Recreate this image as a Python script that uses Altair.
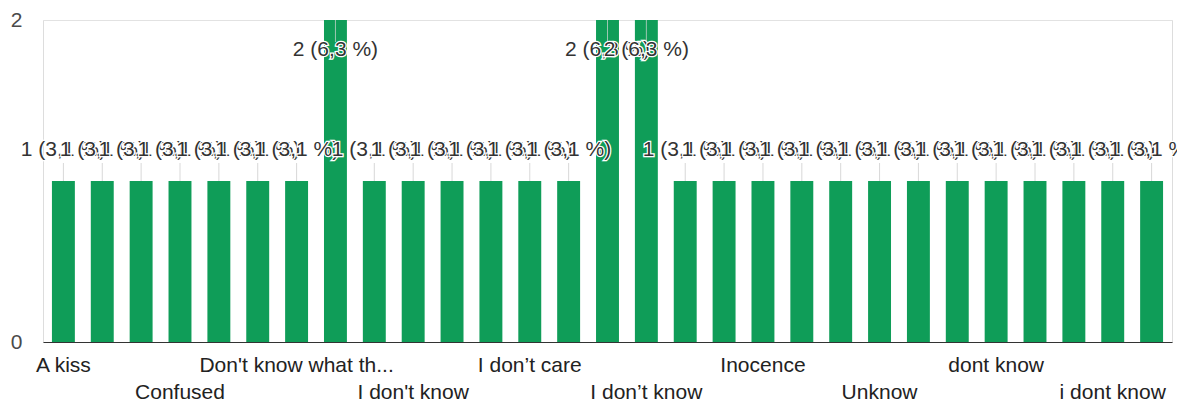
import altair as alt
import pandas as pd

categories = [
    "A kiss", "Anger", "Boredom", "Confused", "Death", "Don't know",
    "Don't know what th...", "Dont know", "Happiness", "I don't know",
    "I don't understand", "I dont know", "I don\u2019t care", "I don\u2019t get it",
    "I don\u2019t have a clue", "I don\u2019t know", "I have no idea", "Idk",
    "Inocence", "Love", "Nothing", "Unknow", "Unknown", "What",
    "dont know", "dunno", "i don't know", "i dont know", "idk",
]
values = [1, 1, 1, 1, 1, 1, 1, 2, 1, 1, 1, 1, 1, 1, 2, 2, 1, 1, 1, 1, 1, 1, 1, 1, 1, 1, 1, 1, 1]

df = pd.DataFrame({"category": categories, "value": values})

FONT = "Liberation Sans"
GREEN = "#0f9d58"

base = alt.Chart(df).transform_joinaggregate(
    total="sum(value)", vmax="max(value)"
).transform_calculate(
    label="datum.value + ' (' + replace(format(datum.value / datum.total * 100, '.1f'), '.', ',') + ' %)'"
)

x = alt.X(
    "category:N",
    sort=categories,
    scale=alt.Scale(paddingInner=0.41, paddingOuter=0.23),
    axis=alt.Axis(labels=False, ticks=False, title=None, domain=True,
                  domainColor="#333333", domainWidth=1, grid=False),
)
y = alt.Y(
    "value:Q",
    scale=alt.Scale(domain=[0, 2], nice=False),
    axis=alt.Axis(values=[0, 1, 2], format="d", title=None, tickSize=0,
                  labelPadding=21, domain=False, gridColor="#e2e2e2",
                  labelFontSize=21, labelFont=FONT, labelColor="#4a4a4a"),
)

bars = base.mark_bar(color=GREEN).encode(x=x, y=y)

low = base.transform_filter("datum.value < datum.vmax")
high = base.transform_filter("datum.value >= datum.vmax")

tick_low = low.mark_tick(orient="vertical", size=18, thickness=1, yOffset=-9,
                         color="#c8c8c8").encode(x=x, y=y)
tick_high = high.mark_tick(orient="vertical", size=22, thickness=1, yOffset=11,
                           color="#d8d8d8").encode(x=x, y=y)

# each label drawn as halo + text, one category after another (later halos
# partly cover earlier labels, as in the reference)
label_layers = []
for cat in categories:
    one = base.transform_filter(alt.FieldEqualPredicate(field="category", equal=cat))
    lo = one.transform_filter("datum.value < datum.vmax")
    hi = one.transform_filter("datum.value >= datum.vmax")
    for src, dy in ((lo, -31), (hi, 30)):
        label_layers.append(
            src.mark_text(font=FONT, fontSize=21, dy=dy, baseline="middle",
                          stroke="white", strokeWidth=2.5, color="white")
            .encode(x=x, y=y, text="label:N"))
        label_layers.append(
            src.mark_text(font=FONT, fontSize=21, dy=dy, baseline="middle",
                          color="#333333")
            .encode(x=x, y=y, text="label:N"))

xl = base.transform_window(idx="row_number()")
row1 = xl.transform_filter("(datum.idx - 1) % 6 == 0").mark_text(
    font=FONT, fontSize=21, baseline="middle", color="#222222"
).encode(x=x, y=alt.value(346), text="category:N")
row2 = xl.transform_filter("(datum.idx - 1) % 6 == 3").mark_text(
    font=FONT, fontSize=21, baseline="middle", color="#222222"
).encode(x=x, y=alt.value(373), text="category:N")

chart = alt.layer(bars, tick_low, tick_high, *label_layers, row1, row2).properties(
    width=1129,
    height=322,
    autosize=alt.AutoSizeParams(type="none"),
    padding={"left": 35, "top": 12, "right": 5, "bottom": 58},
).configure_view(stroke="#e6e6e6").configure(background="white")

chart.save("out.html", embed_options={"renderer": "svg", "actions": False})
